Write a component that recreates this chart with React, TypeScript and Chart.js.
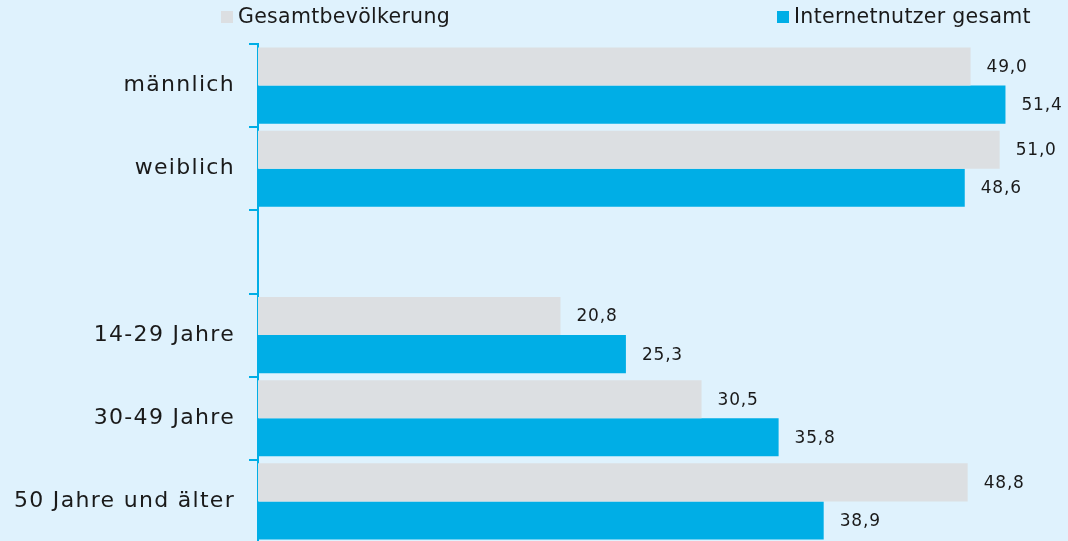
import React, { useEffect, useRef } from "react";
import { Chart, registerables } from "chart.js";

Chart.register(...registerables);

const categories = ["männlich", "weiblich", "", "14-29 Jahre", "30-49 Jahre", "50 Jahre und älter"];
const seriesNames = ["Gesamtbevölkerung", "Internetnutzer gesamt"];
const gesamtValues = [49.0, 51.0, null, 20.8, 30.5, 48.8];
const internetValues = [51.4, 48.6, null, 25.3, 35.8, 38.9];

const GREY = "#dcdfe2";
const BLUE = "#00aee6";
const BG = "#dff2fd";
const TEXT = "#1a1a1a";
const FONT = "'DejaVu Sans', Verdana, sans-serif";

const fmt = (v: number) => v.toFixed(1).replace(".", ",");

const spacingPlugin = {
  id: "spacing",
  beforeDraw(chart: any) {
    (chart.ctx as any).letterSpacing = "1.3px";
  },
};

const valueLabelPlugin = {
  id: "valueLabels",
  afterDatasetsDraw(chart: any) {
    const ctx = chart.ctx;
    ctx.save();
    (ctx as any).letterSpacing = "0.8px";
    ctx.font = `17px ${FONT}`;
    ctx.fillStyle = TEXT;
    ctx.textAlign = "left";
    ctx.textBaseline = "middle";
    chart.data.datasets.forEach((ds: any, i: number) => {
      const meta = chart.getDatasetMeta(i);
      meta.data.forEach((bar: any, j: number) => {
        const v = ds.data[j];
        if (v == null) return;
        ctx.fillText(fmt(v), bar.x + 16, bar.y + 1);
      });
    });
    ctx.restore();
  },
};

const legendPlugin = {
  id: "customLegend",
  afterDraw(chart: any) {
    const ctx = chart.ctx;
    ctx.save();
    (ctx as any).letterSpacing = "0.3px";
    ctx.font = `20.5px ${FONT}`;
    ctx.textBaseline = "middle";
    ctx.textAlign = "left";
    const items = [
      { x: 221, color: GREY, text: seriesNames[0] },
      { x: 777, color: BLUE, text: seriesNames[1] },
    ];
    items.forEach((it) => {
      ctx.fillStyle = it.color;
      ctx.fillRect(it.x, 11, 12, 12);
      ctx.fillStyle = TEXT;
      ctx.fillText(it.text, it.x + 17, 18);
    });
    ctx.restore();
  },
};

export default function App() {
  const ref = useRef<HTMLCanvasElement>(null);
  useEffect(() => {
    if (!ref.current) return;
    const chart = new Chart(ref.current, {
      type: "bar",
      data: {
        labels: categories,
        datasets: [
          { label: seriesNames[0], data: gesamtValues as any, backgroundColor: GREY },
          { label: seriesNames[1], data: internetValues as any, backgroundColor: BLUE },
        ],
      },
      options: {
        indexAxis: "y",
        responsive: false,
        animation: false,
        categoryPercentage: 0.915,
        barPercentage: 1,
        layout: { padding: { top: 44, right: 0, left: 0, bottom: 0 } },
        plugins: {
          legend: { display: false },
          tooltip: { enabled: false },
        },
        scales: {
          x: { display: false, min: 0, max: 55.7 },
          y: {
            border: { color: BLUE, width: 2 },
            grid: {
              drawOnChartArea: false,
              drawTicks: true,
              color: BLUE,
              lineWidth: 2,
              tickLength: 9,
              offset: true,
            },
            ticks: {
              color: TEXT,
              font: { family: FONT, size: 22 },
              padding: 14,
            },
            afterFit: (scale: any) => {
              scale.width = 258;
              scale.paddingTop = 0;
              scale.paddingBottom = 0;
            },
          },
        },
      } as any,
      plugins: [spacingPlugin, valueLabelPlugin, legendPlugin],
    });
    return () => chart.destroy();
  }, []);
  return (
    <div style={{ position: "fixed", left: 0, top: 0, width: 1068, height: 541, background: BG, overflow: "hidden" }}>
      <canvas ref={ref} width={1068} height={543} style={{ display: "block" }} />
    </div>
  );
}
